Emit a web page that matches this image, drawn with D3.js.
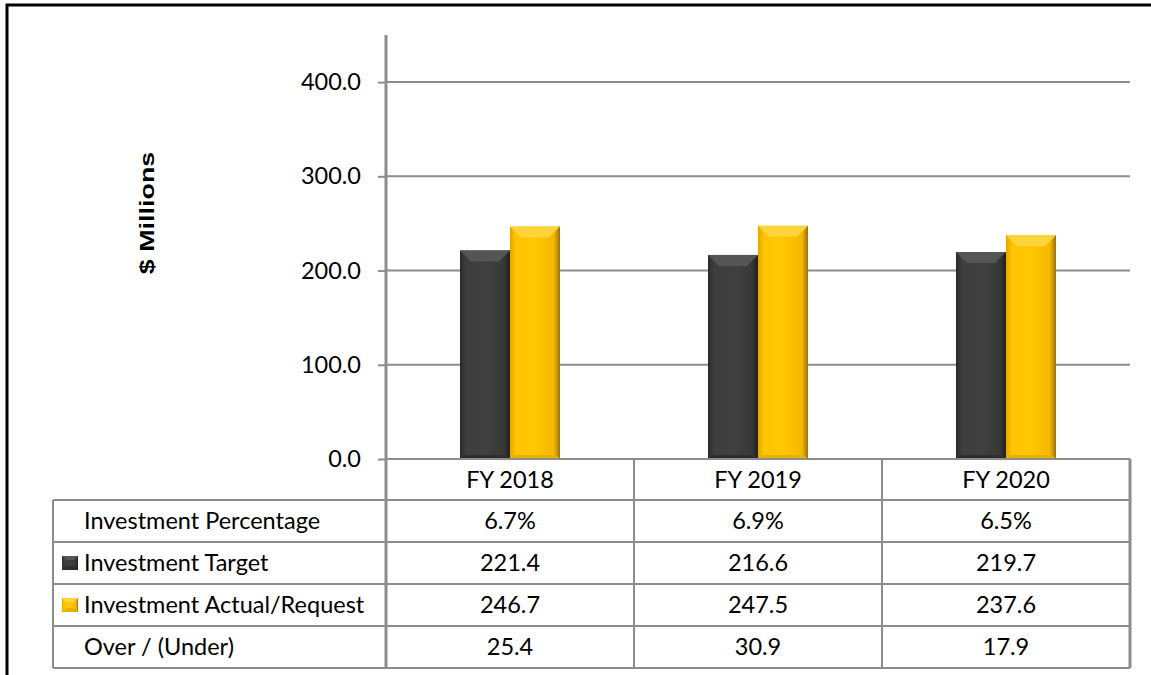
<!DOCTYPE html>
<html>
<head>
<meta charset="utf-8">
<script src="https://cdn.jsdelivr.net/npm/d3@7"></script>
<style>
  body { margin: 0; background: #fff; }
  text { font-family: Lato, "Open Sans", sans-serif; }
</style>
</head>
<body>
<script>
// data
var years = ["FY 2018", "FY 2019", "FY 2020"];
var seriesNames = ["Investment Target", "Investment Actual/Request"];
var target = [221.4, 216.6, 219.7];
var actual = [246.7, 247.5, 237.6];
var pctLabels = ["6.7%", "6.9%", "6.5%"];
var overUnder = [25.4, 30.9, 17.9];
var yTicks = [0, 100, 200, 300, 400];

var width = 1151, height = 675;
var plotLeft = 386, plotRight = 1130, plotTop = 35, plotBottom = 459;
var tableLeft = 53, headerBottom = 500, rowH = 42;
var fs = 23.5;

var svg = d3.select("body").append("svg")
  .attr("width", width)
  .attr("height", height);

var defs = svg.append("defs");

function sideGradient(id, stops) {
  var g = defs.append("linearGradient").attr("id", id)
    .attr("x1", "0%").attr("x2", "100%").attr("y1", "0%").attr("y2", "0%");
  stops.forEach(function(s) {
    g.append("stop").attr("offset", s[0]).attr("stop-color", s[1]);
  });
}
sideGradient("gDark", [["0%", "#2a2a2a"], ["12%", "#3e3e3e"], ["50%", "#404040"], ["88%", "#383838"], ["100%", "#1e1e1e"]]);
sideGradient("gGold", [["0%", "#e0a800"], ["12%", "#ffc400"], ["50%", "#ffc800"], ["88%", "#f5b800"], ["100%", "#9a7000"]]);

var colors = [
  {fill: "url(#gDark)", top: "#555555", bottom: "#2e2e2e"},
  {fill: "url(#gGold)", top: "#ffd43a", bottom: "#e8b000"}
];

var x = d3.scaleBand().domain(years).range([plotLeft, plotRight]);
var xs = d3.scaleBand().domain(seriesNames).range([0, 100]);
var y = d3.scaleLinear().domain([0, 450]).range([plotBottom, plotTop]);

// outer frame
svg.append("path")
  .attr("d", "M7,675 L7,5 L1151,5")
  .attr("fill", "none").attr("stroke", "#000").attr("stroke-width", 3);

// gridlines
svg.append("g").selectAll("line").data(yTicks.slice(1)).enter().append("line")
  .attr("x1", plotLeft).attr("x2", plotRight)
  .attr("y1", function(d) { return y(d); }).attr("y2", function(d) { return y(d); })
  .attr("stroke", "#8c8c8c").attr("stroke-width", 2);

// y axis
var yAxis = d3.axisLeft(y).tickValues(yTicks).tickSize(8).tickPadding(17)
  .tickFormat(d3.format(".1f"));
var ya = svg.append("g").attr("transform", "translate(" + plotLeft + ",0)").call(yAxis);
ya.select(".domain").remove();
ya.selectAll(".tick line").attr("stroke", "#8c8c8c").attr("stroke-width", 2);
ya.selectAll(".tick text").attr("font-size", fs).attr("fill", "#000")
  .style("font-family", "Lato, 'Open Sans', sans-serif");
svg.append("line").attr("x1", plotLeft).attr("x2", plotLeft)
  .attr("y1", plotTop).attr("y2", plotBottom)
  .attr("stroke", "#8c8c8c").attr("stroke-width", 3);

// y title
svg.append("text")
  .attr("transform", "translate(154,213) rotate(-90) scale(1.38,1)")
  .attr("text-anchor", "middle")
  .attr("font-size", 19.5).attr("font-weight", "bold")
  .style("font-family", "'Liberation Sans', Arial, sans-serif")
  .text("$ Millions");

// bars
var barData = [];
years.forEach(function(yr, i) {
  barData.push({year: yr, s: 0, v: target[i]});
  barData.push({year: yr, s: 1, v: actual[i]});
});
var groupOffset = (x.bandwidth() - 100) / 2;
var bars = svg.append("g").selectAll("g").data(barData).enter().append("g")
  .attr("transform", function(d) {
    return "translate(" + (x(d.year) + groupOffset + xs(seriesNames[d.s])) + "," + y(d.v) + ")";
  });
var bw = xs.bandwidth(), bev = 11;
bars.append("rect")
  .attr("width", bw).attr("height", function(d) { return y(0) - y(d.v); })
  .attr("fill", function(d) { return colors[d.s].fill; });
bars.append("path")
  .attr("d", "M0,0 L" + bw + ",0 L" + (bw - bev) + "," + bev + " L" + bev + "," + bev + "Z")
  .attr("fill", function(d) { return colors[d.s].top; });
bars.append("path")
  .attr("d", function(d) {
    var h = y(0) - y(d.v);
    return "M0," + h + " L" + bw + "," + h + " L" + (bw - 4) + "," + (h - 4) + " L4," + (h - 4) + "Z";
  })
  .attr("fill", function(d) { return colors[d.s].bottom; });

// table
var rows = [
  {label: "Investment Percentage", cells: pctLabels, icon: null},
  {label: seriesNames[0], cells: target.map(d3.format(".1f")), icon: 0},
  {label: seriesNames[1], cells: actual.map(d3.format(".1f")), icon: 1},
  {label: "Over / (Under)", cells: overUnder.map(d3.format(".1f")), icon: null}
];
var lineColor = "#8c8c8c";
var tbl = svg.append("g");

// x axis line (zero line) and header cells
tbl.append("line").attr("x1", plotLeft).attr("x2", plotRight)
  .attr("y1", plotBottom).attr("y2", plotBottom)
  .attr("stroke", lineColor).attr("stroke-width", 2);
tbl.selectAll(".hdr").data(years).enter().append("text")
  .attr("class", "hdr")
  .attr("x", function(d) { return x(d) + x.bandwidth() / 2; })
  .attr("y", plotBottom + 29)
  .attr("text-anchor", "middle").attr("font-size", fs)
  .text(function(d) { return d; });

// horizontal lines
var hLines = d3.range(rows.length + 1).map(function(i) { return headerBottom + i * rowH; });
tbl.selectAll(".hl").data(hLines).enter().append("line")
  .attr("x1", tableLeft).attr("x2", plotRight)
  .attr("y1", function(d) { return d; }).attr("y2", function(d) { return d; })
  .attr("stroke", lineColor).attr("stroke-width", 2);

// vertical lines
var tableBottom = hLines[hLines.length - 1];
tbl.append("line").attr("x1", tableLeft).attr("x2", tableLeft)
  .attr("y1", headerBottom).attr("y2", tableBottom)
  .attr("stroke", lineColor).attr("stroke-width", 2);
tbl.append("line").attr("x1", plotLeft).attr("x2", plotLeft)
  .attr("y1", plotBottom).attr("y2", tableBottom)
  .attr("stroke", lineColor).attr("stroke-width", 3);
tbl.selectAll(".vl").data(years).enter().append("line")
  .attr("x1", function(d) { return x(d) + x.bandwidth(); })
  .attr("x2", function(d) { return x(d) + x.bandwidth(); })
  .attr("y1", plotBottom).attr("y2", tableBottom)
  .attr("stroke", lineColor).attr("stroke-width", function(d, i) { return i === years.length - 1 ? 3 : 2; });

var rowG = tbl.selectAll(".row").data(rows).enter().append("g")
  .attr("transform", function(d, i) { return "translate(0," + (headerBottom + i * rowH) + ")"; });
rowG.append("text")
  .attr("x", 84).attr("y", 29).attr("font-size", fs)
  .text(function(d) { return d.label; });
rowG.selectAll(".cell").data(function(d) { return d.cells; }).enter().append("text")
  .attr("x", function(d, i) { return x(years[i]) + x.bandwidth() / 2; })
  .attr("y", 29).attr("text-anchor", "middle").attr("font-size", fs)
  .text(function(d) { return d; });

// legend keys
var keys = rowG.filter(function(d) { return d.icon !== null; }).append("g")
  .attr("transform", "translate(62,14)");
keys.append("rect").attr("width", 16).attr("height", 14)
  .attr("fill", function(d) { return colors[d.icon].fill; });
keys.append("path").attr("d", "M0,0 L16,0 L12,4 L4,4Z")
  .attr("fill", function(d) { return colors[d.icon].top; });
keys.append("path").attr("d", "M0,14 L16,14 L12,10 L4,10Z")
  .attr("fill", function(d) { return colors[d.icon].bottom; });
</script>
</body>
</html>
